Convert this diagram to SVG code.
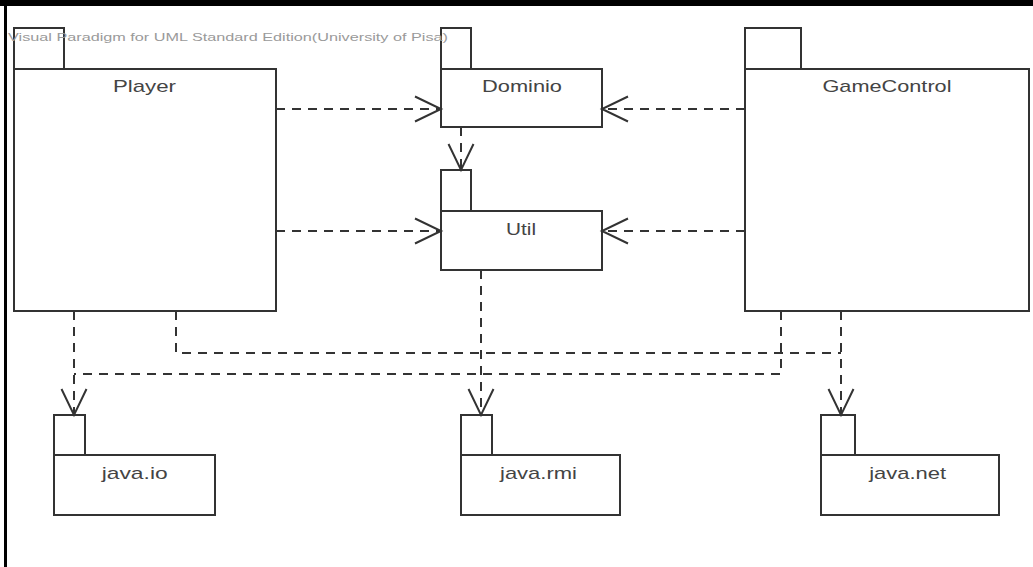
<svg xmlns="http://www.w3.org/2000/svg" width="1033" height="567" viewBox="0 0 1033 567">
<style>
.box{fill:#fff;stroke:#333;stroke-width:2}
.lbl{font-family:"Liberation Sans",Arial,sans-serif;font-size:17px;fill:#444;text-anchor:middle}
.wm{font-family:"Liberation Sans",Arial,sans-serif;font-size:11px;fill:#9a9a9a}
.dep{fill:none;stroke:#333;stroke-width:2;stroke-dasharray:9 7}
</style>
<defs>
<marker id="open" markerUnits="userSpaceOnUse" markerWidth="32" markerHeight="32" viewBox="-29 -16 32 32" refX="0" refY="0" orient="auto">
<path d="M-26,-12.5 L0,0 L-26,12.5" fill="none" stroke="#333" stroke-width="2" stroke-dasharray="none"/>
</marker>
</defs>
<rect x="0" y="0" width="1033" height="567" fill="#fff"/>
<rect x="0" y="0" width="1033" height="6" fill="#000"/>
<rect x="4" y="0" width="3" height="567" fill="#000"/>

<g id="Player">
<rect class="box" x="14" y="28" width="50" height="41"/>
<rect class="box" x="14" y="69" width="262" height="242"/>
<text class="lbl" x="144.5" y="92" textLength="63" lengthAdjust="spacingAndGlyphs">Player</text>
</g>
<g id="Dominio">
<rect class="box" x="441" y="28" width="30" height="41"/>
<rect class="box" x="441" y="69" width="161" height="58"/>
<text class="lbl" x="522" y="92" textLength="80" lengthAdjust="spacingAndGlyphs">Dominio</text>
</g>
<g id="Util">
<rect class="box" x="441" y="170" width="30" height="41"/>
<rect class="box" x="441" y="211" width="161" height="59"/>
<text class="lbl" x="521" y="235" textLength="30" lengthAdjust="spacingAndGlyphs">Util</text>
</g>
<g id="GameControl">
<rect class="box" x="745" y="28" width="56" height="41"/>
<rect class="box" x="745" y="69" width="284" height="242"/>
<text class="lbl" x="887" y="92" textLength="129" lengthAdjust="spacingAndGlyphs">GameControl</text>
</g>
<g id="java.io">
<rect class="box" x="54" y="415" width="31" height="40"/>
<rect class="box" x="54" y="455" width="161" height="60"/>
<text class="lbl" x="134.7" y="479" textLength="66" lengthAdjust="spacingAndGlyphs">java.io</text>
</g>
<g id="java.rmi">
<rect class="box" x="461" y="415" width="31" height="40"/>
<rect class="box" x="461" y="455" width="159" height="60"/>
<text class="lbl" x="538.5" y="479" textLength="77" lengthAdjust="spacingAndGlyphs">java.rmi</text>
</g>
<g id="java.net">
<rect class="box" x="821" y="415" width="34" height="40"/>
<rect class="box" x="821" y="455" width="178" height="60"/>
<text class="lbl" x="907.7" y="479" textLength="77" lengthAdjust="spacingAndGlyphs">java.net</text>
</g>

<g id="connectors">
<path class="dep" d="M276,109 H441" marker-end="url(#open)"/>
<path class="dep" d="M276,231 H441" marker-end="url(#open)"/>
<path class="dep" d="M745,109 H602" marker-end="url(#open)"/>
<path class="dep" d="M745,231 H602" marker-end="url(#open)"/>
<path class="dep" d="M461,127 V170" marker-end="url(#open)"/>
<path class="dep" d="M481,270 V415" marker-end="url(#open)"/>
<path class="dep" d="M74,311 V415" marker-end="url(#open)"/>
<path class="dep" d="M781,311 V374 H74"/>
<path class="dep" d="M176,311 V353 H841"/>
<path class="dep" d="M841,311 V415" marker-end="url(#open)"/>
</g>

<text class="wm" x="8" y="41" textLength="440" lengthAdjust="spacingAndGlyphs">Visual Paradigm for UML Standard Edition(University of Pisa)</text>
</svg>
